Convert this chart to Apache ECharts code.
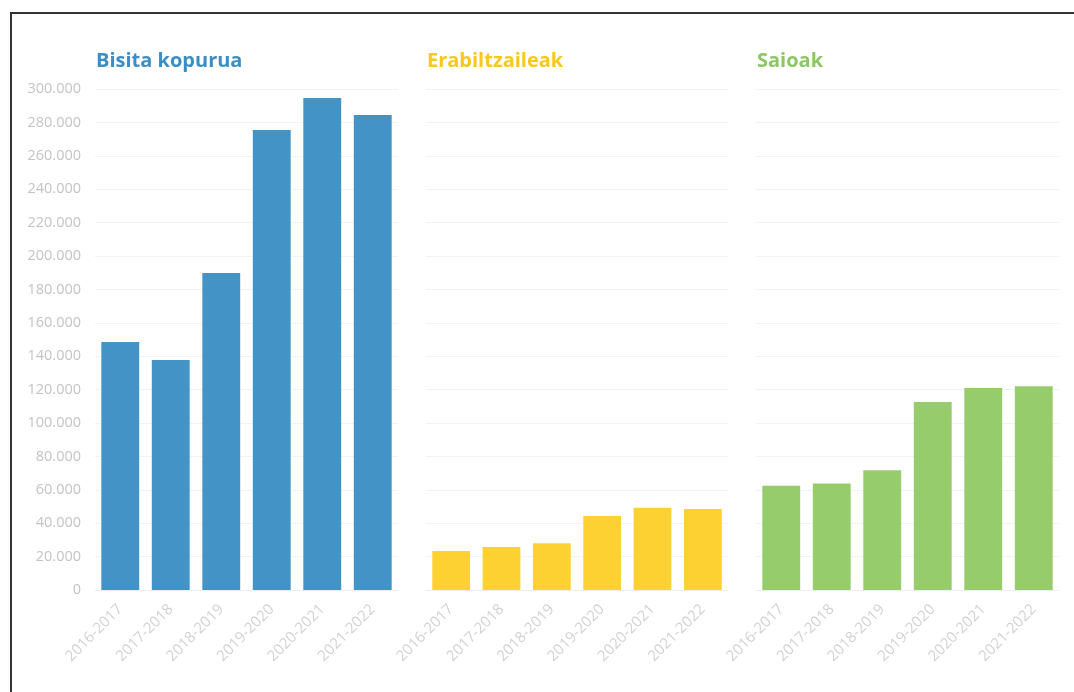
<!DOCTYPE html>
<html>
<head>
<meta charset="utf-8">
<style>
  html, body { margin: 0; padding: 0; background: #fff; }
  #frame { position: absolute; left: 10px; top: 12px; width: 1064px; height: 680px;
           border-top: 2px solid #333; border-left: 2px solid #333; box-sizing: border-box; }
  #main { position: absolute; left: 0; top: 0; width: 1074px; height: 692px; }
</style>
<script src="https://cdn.jsdelivr.net/npm/echarts@6/dist/echarts.min.js"></script>
</head>
<body>
<div id="frame"></div>
<div id="main"></div>
<script>
  // data
  const seasons = ['2016-2017', '2017-2018', '2018-2019', '2019-2020', '2020-2021', '2021-2022'];
  const bisitaKopurua = [148500, 137700, 189800, 275400, 294600, 284400];
  const erabiltzaileak = [23400, 25700, 28000, 44300, 49300, 48500];
  const saioak = [62500, 63700, 71700, 112600, 120900, 122000];
  const panelTitles = ['Bisita kopurua', 'Erabiltzaileak', 'Saioak'];
  const panelColors = ['#4393c6', '#fdd131', '#96cc6c'];
  const titleColors = ['#3b8ec4', '#f8c81c', '#8cc665'];

  const panels = [bisitaKopurua, erabiltzaileak, saioak];
  const grids = [
    { left: 95, width: 303 },
    { left: 426, width: 302 },
    { left: 756, width: 303 }
  ];

  function fmt(v) {
    return String(v).replace(/\B(?=(\d{3})+(?!\d))/g, '.');
  }

  const chart = echarts.init(document.getElementById('main'));

  const option = {
    animation: false,
    textStyle: { fontFamily: 'Open Sans' },
    title: panelTitles.map(function (t, i) {
      return {
        text: t,
        left: grids[i].left + 1,
        top: 51,
        padding: 0,
        textStyle: { fontFamily: 'Open Sans', fontWeight: 'bold', fontSize: 20, color: titleColors[i] }
      };
    }),
    grid: grids.map(function (g) {
      return { left: g.left, width: g.width, top: 89, bottom: 102 };
    }),
    xAxis: grids.map(function (g, i) {
      return {
        type: 'category',
        gridIndex: i,
        data: seasons,
        axisTick: { show: false },
        axisLine: { lineStyle: { color: '#eeeeee' } },
        axisLabel: { rotate: 45, color: '#d2d2d2', fontSize: 15, margin: 17, interval: 0 }
      };
    }),
    yAxis: grids.map(function (g, i) {
      return {
        type: 'value',
        gridIndex: i,
        min: 0,
        max: 300000,
        interval: 20000,
        axisLine: { show: false },
        axisTick: { show: false },
        splitLine: { lineStyle: { color: '#f2f2f2' } },
        axisLabel: { show: i === 0, color: '#c4c4c4', fontSize: 14.5, margin: 14, formatter: fmt }
      };
    }),
    series: panels.map(function (d, i) {
      return {
        type: 'bar',
        xAxisIndex: i,
        yAxisIndex: i,
        data: d,
        barCategoryGap: '25%',
        itemStyle: { color: panelColors[i] }
      };
    })
  };

  chart.setOption(option);
</script>
</body>
</html>
